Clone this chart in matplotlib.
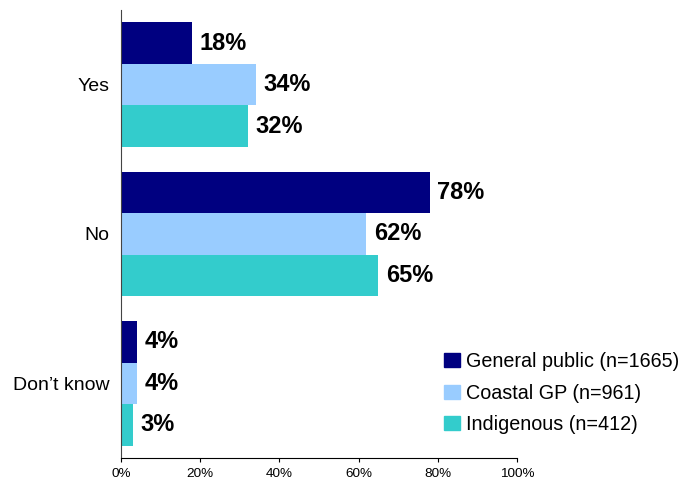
import numpy as np
import matplotlib.pyplot as plt
from matplotlib.patches import Patch

plt.rcParams['font.family'] = ['Liberation Sans', 'DejaVu Sans']

# Survey responses (%)
categories = ['Yes', 'No', 'Don\u2019t know']
general_public = [18, 78, 4]
coastal_gp = [34, 62, 4]
indigenous = [32, 65, 3]
series_names = ['General public (n=1665)', 'Coastal GP (n=961)', 'Indigenous (n=412)']
colors = ['#000080', '#99CCFF', '#33CCCC']

fig = plt.figure(figsize=(6.85, 4.83), dpi=100)
ax = fig.add_axes([0.1766, 0.0518, 0.5781, 0.9275])

y = np.arange(len(categories))
h = 0.278
for i, (vals, col) in enumerate(zip([general_public, coastal_gp, indigenous], colors)):
    pos = y + (i - 1) * h
    ax.barh(pos, vals, height=h, color=col)
    for p, v in zip(pos, vals):
        ax.annotate(f'{v}%', (v, p), xytext=(5.5, 0), textcoords='offset points',
                    va='center', ha='left', fontsize=17, fontweight='bold')

ax.set_ylim(2.5, -0.5)
ax.set_xlim(0, 100)
ax.set_yticks(y)
ax.set_yticklabels(categories, fontsize=14)
ax.tick_params(axis='y', length=0, pad=8)
ax.set_xticks(np.arange(0, 101, 20))
ax.set_xticklabels([f'{t}%' for t in range(0, 101, 20)], fontsize=9.7)
ax.tick_params(axis='x', length=3, width=0.8, pad=4)

ax.spines['top'].set_visible(False)
ax.spines['right'].set_visible(False)
ax.spines['left'].set_color('#444444')

handles = [Patch(color=c) for c in colors]
fig.legend(handles, series_names, loc='upper left', bbox_to_anchor=(0.648, 0.271),
           frameon=False, fontsize=14.2, handlelength=0.8, handleheight=0.7,
           handletextpad=0.3, labelspacing=0.63, borderpad=0, borderaxespad=0)

fig.savefig('out.png', dpi=100)
